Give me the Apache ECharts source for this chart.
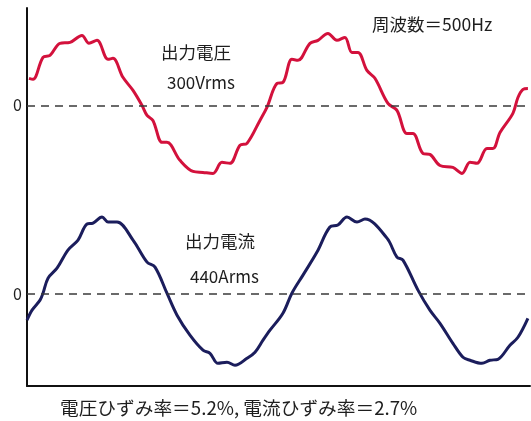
<!DOCTYPE html>
<html>
<head>
<meta charset="utf-8">
<script src="https://cdn.jsdelivr.net/npm/echarts@6/dist/echarts.min.js"></script>
<style>
  html, body { margin: 0; padding: 0; background: #fff; }
  #chart { width: 531px; height: 421px; }
</style>
</head>
<body>
<div id="chart"></div>
<script>
// Output voltage waveform: time (ms), instantaneous value (V)
const voltageTime = [0.016, 0.049, 0.130, 0.187, 0.268, 0.350, 0.447, 0.504, 0.569, 0.659, 0.699, 0.780, 0.862, 0.935, 0.976, 1.024, 1.098, 1.138, 1.244, 1.350, 1.431, 1.512, 1.585, 1.650, 1.732, 1.789, 1.894, 1.951, 2.033, 2.081, 2.154, 2.203, 2.301, 2.366, 2.447, 2.520, 2.585, 2.642, 2.691, 2.764, 2.829, 2.935, 3.008, 3.089, 3.138, 3.220, 3.276, 3.358, 3.463, 3.537, 3.602, 3.659, 3.740, 3.789, 3.846, 3.951, 3.992, 4.033, 4.073];
const voltageValue = [164, 158, 291, 303, 376, 382, 424, 376, 394, 279, 285, 170, 91, 0, -61, -91, -224, -224, -333, -400, -406, -412, -345, -351, -242, -230, -91, -12, 133, 139, 279, 273, 376, 394, 436, 394, 412, 321, 321, 212, 164, 12, -30, -170, -170, -291, -297, -364, -376, -412, -345, -351, -261, -261, -164, -48, 48, 97, 103];

// Output current waveform: time (ms), instantaneous value (A)
const currentTime = [0.000, 0.041, 0.106, 0.130, 0.171, 0.244, 0.333, 0.415, 0.488, 0.537, 0.610, 0.659, 0.732, 0.862, 0.976, 1.041, 1.138, 1.220, 1.325, 1.431, 1.488, 1.553, 1.626, 1.691, 1.789, 1.854, 1.919, 1.976, 2.081, 2.154, 2.244, 2.358, 2.463, 2.528, 2.602, 2.683, 2.748, 2.927, 3.008, 3.057, 3.179, 3.276, 3.358, 3.463, 3.545, 3.602, 3.699, 3.764, 3.829, 3.927, 3.992, 4.073];
const currentValue = [-218, -134, -50, 8, 134, 218, 370, 454, 588, 596, 647, 605, 605, 454, 269, 227, 8, -176, -344, -470, -496, -580, -571, -596, -538, -487, -386, -302, -160, 8, 160, 353, 563, 580, 647, 605, 630, 470, 311, 286, 34, -134, -244, -412, -529, -554, -580, -554, -546, -428, -361, -202];

// Annotation texts
const freqText = '周波数＝500Hz';
const voltageTitle = '出力電圧';
const voltageRms = '300Vrms';
const currentTitle = '出力電流';
const currentRms = '440Arms';
const distortionText = '電圧ひずみ率＝5.2%, 電流ひずみ率＝2.7%';

const zip = (xs, ys) => xs.map((x, i) => [x, ys[i]]);

const FONT = '"Noto Sans CJK JP", "Noto Sans", sans-serif';
const TEXT_COLOR = '#1e1e1e';

const zeroLine = {
  symbol: 'none',
  silent: true,
  lineStyle: { type: [8, 6], color: '#3a3a3a', width: 1.5 },
  label: { position: 'start', formatter: '0', color: TEXT_COLOR, fontSize: 16, fontFamily: FONT, distance: 5 },
  data: [{ yAxis: 0 }]
};

const chart = echarts.init(document.getElementById('chart'));
chart.setOption({
  backgroundColor: '#fff',
  animation: false,
  grid: { left: 27, right: 1, top: 8, bottom: 35, containLabel: false },
  xAxis: {
    type: 'value', min: 0, max: 4.09,
    axisLine: { show: true, onZero: false, lineStyle: { color: '#111', width: 2 } },
    axisTick: { show: false }, axisLabel: { show: false }, splitLine: { show: false }
  },
  yAxis: [
    {
      type: 'value', min: -1700, max: 590,
      axisLine: { show: true, onZero: false, lineStyle: { color: '#111', width: 2 } },
      axisTick: { show: false }, axisLabel: { show: false }, splitLine: { show: false }
    },
    {
      type: 'value', min: -770, max: 2400, position: 'left',
      axisLine: { show: false }, axisTick: { show: false }, axisLabel: { show: false }, splitLine: { show: false }
    }
  ],
  series: [
    {
      name: voltageTitle, type: 'line', yAxisIndex: 0, showSymbol: false, smooth: 0.35,
      lineStyle: { color: '#d3113c', width: 3 },
      data: zip(voltageTime, voltageValue),
      markLine: zeroLine
    },
    {
      name: currentTitle, type: 'line', yAxisIndex: 1, showSymbol: false, smooth: 0.35,
      lineStyle: { color: '#1b1d5c', width: 3 },
      data: zip(currentTime, currentValue),
      markLine: zeroLine
    }
  ],
  graphic: [
    { type: 'text', left: 372, top: 16, style: { text: freqText, font: '17.5px ' + FONT, fill: TEXT_COLOR } },
    { type: 'text', left: 161, top: 44, style: { text: voltageTitle, font: '17.5px ' + FONT, fill: TEXT_COLOR } },
    { type: 'text', left: 167, top: 74, style: { text: voltageRms, font: '17px ' + FONT, fill: TEXT_COLOR } },
    { type: 'text', left: 185, top: 233, style: { text: currentTitle, font: '17.5px ' + FONT, fill: TEXT_COLOR } },
    { type: 'text', left: 190, top: 268, style: { text: currentRms, font: '17px ' + FONT, fill: TEXT_COLOR } },
    { type: 'text', left: 60, top: 399, style: { text: distortionText, font: '18.7px ' + FONT, fill: TEXT_COLOR } }
  ]
});
</script>
</body>
</html>
